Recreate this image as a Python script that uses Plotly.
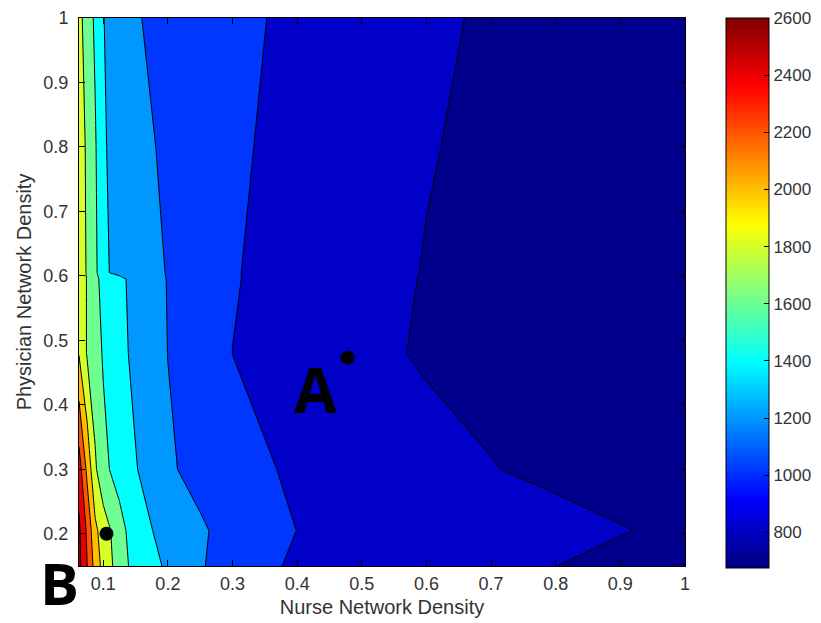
import plotly.graph_objects as go

# Grid of nurse (x) and physician (y) network densities
nurse_density = [0.0625, 0.075, 0.0875, 0.1, 0.125, 0.15, 0.2, 0.25, 0.3, 0.4, 0.5, 0.6, 0.7, 0.8, 0.9, 1.0]
physician_density = [0.15, 0.205, 0.3, 0.48, 0.595, 0.605, 0.8, 1.0]

# Values per physician-density row
row_015 = [2650, 2404, 2123, 1934, 1705, 1520, 1373, 1219, 1100, 970, 941, 894, 848, 801, 760, 730]
row_0205 = [2640, 2366, 2044, 1907, 1675, 1490, 1320, 1222, 1140, 998, 960, 922, 884, 846, 807, 770]
row_030 = [2500, 2154, 1831, 1650, 1519, 1412, 1222, 1148, 1065, 970, 921, 863, 805, 770, 740, 710]
row_048 = [1990, 1783, 1679, 1584, 1455, 1355, 1198, 1099, 999, 925, 845, 780, 760, 735, 710, 690]
row_0595 = [1915, 1790, 1662, 1525, 1439, 1344, 1192, 1107, 1010, 936, 861, 790, 758, 733, 708, 688]
row_0605 = [1908, 1782, 1656, 1422, 1363, 1304, 1190, 1105, 1010, 936, 863, 792, 760, 735, 710, 690]
row_080 = [1910, 1767, 1624, 1415, 1344, 1245, 1173, 1108, 1023, 953, 884, 810, 765, 738, 712, 688]
row_100 = [1860, 1712, 1565, 1405, 1318, 1210, 1158, 1107, 1045, 960, 903, 836, 775, 745, 715, 690]
z_rows = [row_015, row_0205, row_030, row_048, row_0595, row_0605, row_080, row_100]

levels_start, levels_end, levels_step = 800, 2600, 200
cbar_min, cbar_max = 675, 2600
cbar_ticks = [800, 1000, 1200, 1400, 1600, 1800, 2000, 2200, 2400, 2600]
x_ticks = [0.1, 0.2, 0.3, 0.4, 0.5, 0.6, 0.7, 0.8, 0.9, 1.0]
x_ticktext = ["0.1", "0.2", "0.3", "0.4", "0.5", "0.6", "0.7", "0.8", "0.9", "1"]
y_ticks = [0.2, 0.3, 0.4, 0.5, 0.6, 0.7, 0.8, 0.9, 1.0]
y_ticktext = ["0.2", "0.3", "0.4", "0.5", "0.6", "0.7", "0.8", "0.9", "1"]

point_x = [0.478, 0.105]
point_y = [0.473, 0.2]

# MATLAB-style jet
jet = [
    [0.0, "rgb(0,0,128)"], [0.125, "rgb(0,0,255)"], [0.375, "rgb(0,255,255)"],
    [0.625, "rgb(255,255,0)"], [0.875, "rgb(255,0,0)"], [1.0, "rgb(128,0,0)"],
]
# colours of the filled bands (below 800, 800-1000, ..., above 2600)
band_colors = [
    "rgb(0,0,140)", "rgb(0,0,200)", "rgb(0,55,255)", "rgb(0,152,255)",
    "rgb(0,255,255)", "rgb(110,255,145)", "rgb(215,255,40)", "rgb(255,190,0)",
    "rgb(255,85,0)", "rgb(232,0,0)", "rgb(140,0,0)",
]
n = len(band_colors) - 1
band_scale = [[i / n, c] for i, c in enumerate(band_colors)]

FONT = "Liberation Sans, Arial, sans-serif"
BOLD = "Open Sans, DejaVu Sans, sans-serif"

fig = go.Figure()
fig.add_trace(go.Contour(
    x=nurse_density, y=physician_density, z=z_rows,
    autocontour=False,
    contours=dict(start=levels_start, end=levels_end, size=levels_step, coloring="fill"),
    colorscale=band_scale, showscale=False,
    line=dict(color="black", width=1, smoothing=0),
    hoverinfo="skip",
))
# continuous colourbar
fig.add_trace(go.Scatter(
    x=[None], y=[None], mode="markers", showlegend=False, hoverinfo="skip",
    marker=dict(color=[cbar_min, cbar_max], cmin=cbar_min, cmax=cbar_max, colorscale=jet,
                showscale=True,
                colorbar=dict(
                    x=1.0677, xanchor="left", y=0.498, yanchor="middle",
                    thickness=43, thicknessmode="pixels", len=550, lenmode="pixels",
                    outlinecolor="black", outlinewidth=1,
                    tickvals=cbar_ticks, ticks="inside", ticklen=5, tickcolor="black",
                    tickfont=dict(family=FONT, size=17, color="#333"),
                    xpad=0, ypad=0,
                )),
))
fig.add_trace(go.Scatter(
    x=point_x, y=point_y, mode="markers", showlegend=False, hoverinfo="skip",
    marker=dict(color="black", size=14),
))

fig.add_annotation(x=0.428, y=0.425, xref="x", yref="y", text="<b>A</b>", showarrow=False,
                   xanchor="center", yanchor="middle",
                   font=dict(family=BOLD, size=62, color="black"))
fig.add_annotation(x=-0.033, y=-0.030, xref="paper", yref="paper", text="<b>B</b>", showarrow=False,
                   xanchor="center", yanchor="middle", height=50, valign="middle",
                   font=dict(family=BOLD, size=58, color="black"))

axis_common = dict(showgrid=False, zeroline=False, showline=True, linecolor="black", linewidth=1,
                   mirror="ticks", ticks="inside", ticklen=6, tickcolor="black",
                   tickfont=dict(family=FONT, size=18, color="#333"))
fig.update_xaxes(range=[0.0625, 1.0], tickvals=x_ticks, ticktext=x_ticktext, ticklabelstandoff=1,
                 title=dict(text="Nurse Network Density", font=dict(family=FONT, size=20, color="#333"), standoff=7),
                 **axis_common)
fig.update_yaxes(range=[0.15, 1.0], tickvals=y_ticks, ticktext=y_ticktext, ticklabelstandoff=6,
                 title=dict(text="Physician Network Density", font=dict(family=FONT, size=20, color="#333"), standoff=6),
                 **axis_common)

# page body adds an 8px offset, so the figure is 8px smaller with margins shifted accordingly
fig.update_layout(
    width=813, height=615,
    margin=dict(l=71, r=136, t=10, b=57, autoexpand=False),
    paper_bgcolor="white", plot_bgcolor="white",
    showlegend=False,
)

fig.write_html("out.html")
